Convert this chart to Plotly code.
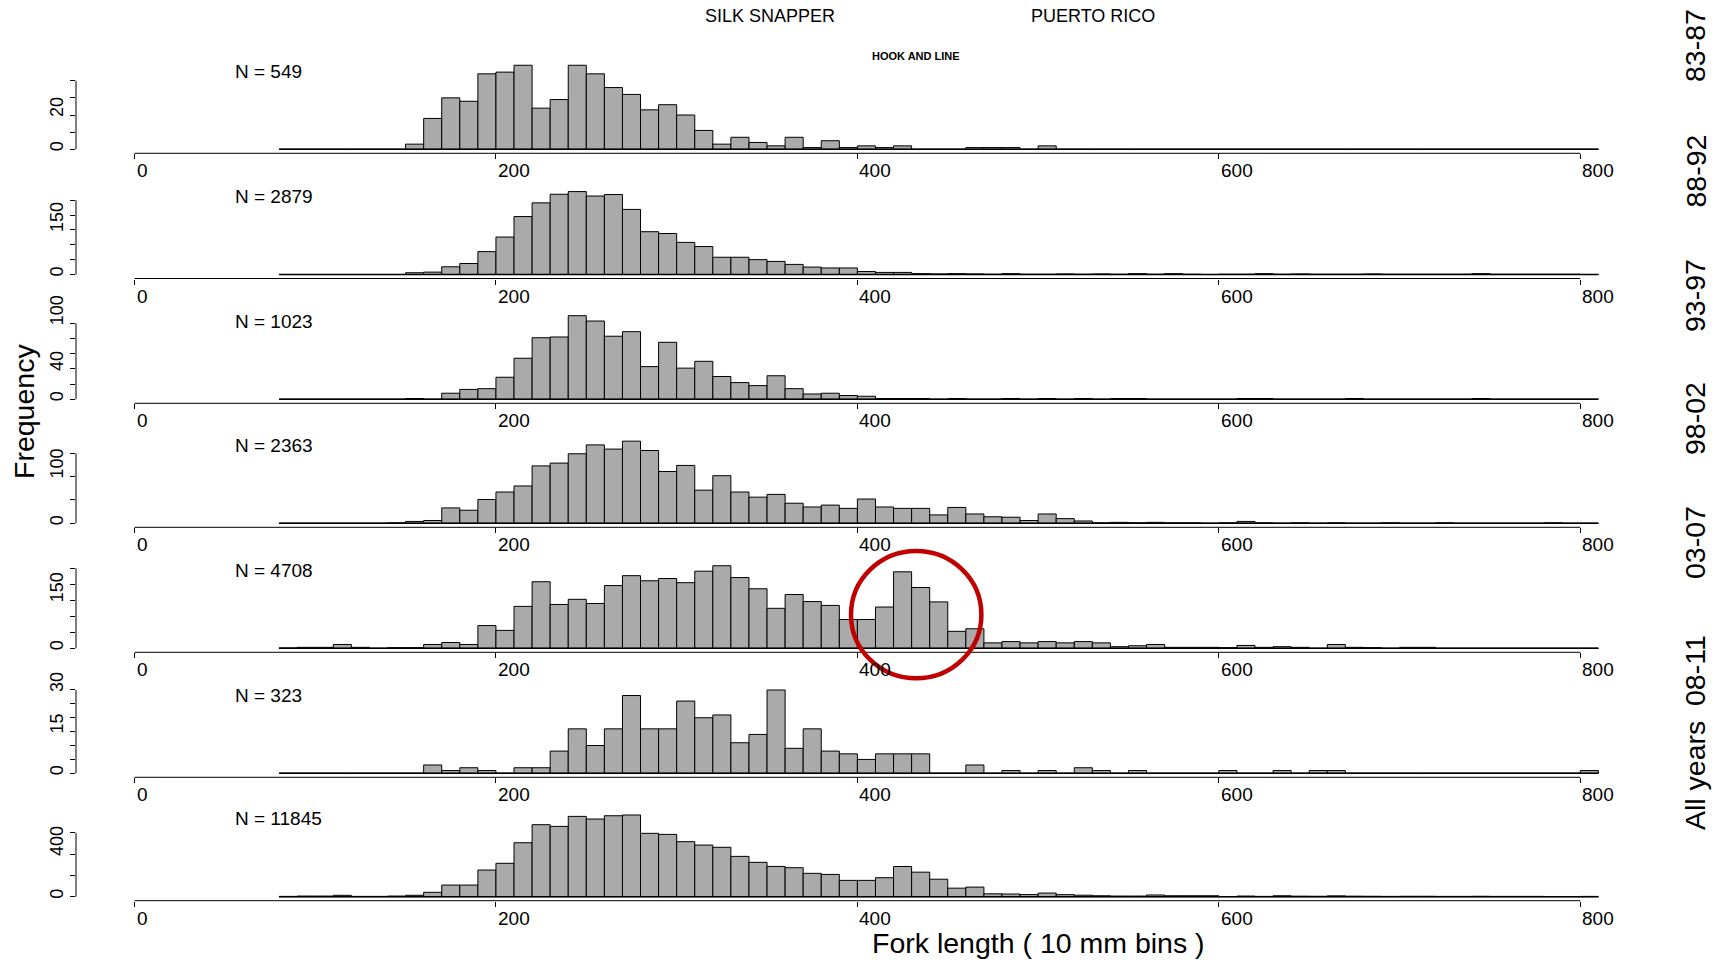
import plotly.graph_objects as go

W, H = 1723, 962

# ---------------- data ----------------
bin_width = 10
bin_starts = list(range(80, 810, bin_width))  # 80 .. 800 (fork length, 10 mm bins)

counts_83_87 = [0, 0, 0, 0, 0, 0, 0,
                3, 18, 30, 28, 44, 45, 49, 24, 29, 49,
                44, 36, 32, 23, 26, 20, 11, 3, 7, 4,
                2, 7, 1, 5, 1, 2, 1, 2, 0, 0,
                0, 1, 1, 1, 0, 2, 0, 0, 0, 0,
                0, 0, 0, 0, 0, 0, 0, 0, 0, 0,
                0, 0, 0, 0, 0, 0, 0, 0, 0, 0,
                0, 0, 0, 0, 0, 0]
counts_88_92 = [0, 0, 0, 0, 0, 0, 0,
                6, 8, 26, 37, 77, 126, 195, 241, 270, 279,
                264, 269, 219, 144, 138, 108, 94, 58, 58, 50,
                44, 34, 25, 22, 22, 10, 7, 7, 3, 2,
                3, 2, 1, 3, 1, 1, 2, 1, 2, 1,
                3, 1, 3, 1, 0, 1, 1, 3, 1, 2,
                1, 1, 1, 2, 1, 1, 1, 1, 1, 3,
                1, 1, 1, 1, 1, 0]
counts_93_97 = [0, 0, 0, 0, 0, 0, 0,
                1, 0, 8, 13, 14, 29, 54, 81, 82, 110,
                103, 83, 89, 43, 75, 41, 50, 30, 22, 18,
                31, 14, 7, 8, 5, 4, 1, 1, 1, 0,
                1, 0, 0, 1, 0, 1, 0, 1, 0, 1,
                1, 0, 0, 0, 0, 0, 1, 1, 0, 0,
                0, 0, 1, 0, 0, 0, 0, 0, 0, 1,
                0, 0, 0, 0, 0, 0]
counts_98_02 = [0, 0, 0, 0, 0, 0, 1,
                4, 6, 33, 28, 51, 67, 80, 123, 129, 149,
                168, 159, 176, 156, 111, 124, 71, 102, 67, 56,
                62, 43, 35, 39, 32, 52, 35, 32, 32, 18,
                34, 20, 14, 13, 6, 20, 10, 5, 1, 2,
                1, 2, 1, 1, 0, 1, 4, 1, 0, 1,
                0, 1, 0, 0, 1, 0, 0, 1, 0, 0,
                0, 0, 0, 1, 0, 0]
counts_03_07 = [1, 3, 3, 12, 3, 0, 2,
                2, 12, 18, 12, 71, 56, 131, 208, 137, 153,
                140, 196, 227, 211, 218, 205, 241, 258, 221, 186,
                125, 168, 146, 134, 90, 90, 129, 239, 190, 145,
                53, 61, 17, 21, 17, 21, 17, 21, 17, 5,
                8, 12, 3, 3, 3, 2, 9, 3, 5, 3,
                0, 12, 3, 2, 0, 3, 3, 0, 0, 0,
                0, 0, 0, 0, 0, 0]
counts_08_11 = [0, 0, 0, 0, 0, 0, 0,
                0, 3, 1, 2, 1, 0, 2, 2, 8, 16,
                10, 16, 28, 16, 16, 26, 20, 21, 11, 14,
                30, 9, 16, 8, 7, 5, 7, 7, 7, 0,
                0, 3, 0, 1, 0, 1, 0, 2, 1, 0,
                1, 0, 0, 0, 0, 1, 0, 0, 1, 0,
                1, 1, 0, 0, 0, 0, 0, 0, 0, 0,
                0, 0, 0, 0, 0, 1]
counts_all = [3, 6, 6, 13, 3, 3, 6,
              13, 41, 109, 109, 250, 313, 506, 675, 659, 753,
              728, 759, 766, 594, 584, 516, 484, 463, 378, 322,
              284, 272, 219, 209, 153, 153, 178, 283, 230, 164,
              80, 90, 27, 25, 20, 34, 19, 14, 9, 6,
              6, 16, 9, 9, 9, 2, 6, 3, 9, 5,
              4, 8, 5, 4, 3, 4, 4, 3, 3, 4,
              3, 3, 3, 2, 2, 3]

series = [counts_83_87, counts_88_92, counts_93_97, counts_98_02,
          counts_03_07, counts_08_11, counts_all]
period_labels = ["83-87", "88-92", "93-97", "98-02", "03-07", "08-11", "All years"]
n_labels = ["N = 549", "N = 2879", "N = 1023", "N = 2363", "N = 4708", "N = 323", "N = 11845"]

x_ticks = [0, 200, 400, 600, 800]
y_ticks = [[0, 10, 20, 30, 40], [0, 50, 100, 150, 200, 250], [0, 20, 40, 60, 80, 100],
           [0, 50, 100, 150], [0, 50, 100, 150, 200, 250], [0, 5, 10, 15, 20, 25, 30],
           [0, 200, 400, 600]]
y_tick_labels = [["0", "20"], ["0", "150"], ["0", "40", "100"], ["0", "100"],
                 ["0", "150"], ["0", "15", "30"], ["0", "400"]]

# ---------------- layout geometry (pixels) ----------------
FONT = "Liberation Sans, Arial, Helvetica, sans-serif"
baseline_px = [149.3, 274.5, 399.3, 523.3, 648.3, 773.3, 896.7]
px_per_unit = [1.715, 0.2972, 0.76, 0.4667, 0.32, 2.778, 0.10667]
X0_PX, PXU_X = 134.5, 1.80725
LEFT_PX, RIGHT_PX = 76, 1610
x_range = [(LEFT_PX - X0_PX) / PXU_X, (RIGHT_PX - X0_PX) / PXU_X]
YLAB_SIZE = 18


def px_x(px):
    return px / W


def px_y(px):
    return 1 - px / H


fig = go.Figure()
annotations = []
shapes = []
layout = {}

for i, counts in enumerate(series):
    k = "" if i == 0 else str(i + 1)
    xa, ya = "x" + k, "y" + k
    b = baseline_px[i]
    ppu = px_per_unit[i]

    fig.add_trace(go.Bar(
        x=bin_starts, y=counts, width=bin_width, offset=0,
        marker=dict(color="#aaaaaa", line=dict(color="black", width=1)),
        xaxis=xa, yaxis=ya, showlegend=False, hoverinfo="x+y"))
    fig.add_trace(go.Scatter(
        x=[bin_starts[0], bin_starts[-1] + bin_width], y=[0, 0], mode="lines",
        line=dict(color="black", width=1.6), xaxis=xa, yaxis=ya,
        showlegend=False, hoverinfo="skip"))

    layout["xaxis" + k] = dict(
        domain=[px_x(LEFT_PX), px_x(RIGHT_PX)], range=x_range, anchor=ya,
        tickmode="array", tickvals=x_ticks, ticks="outside", ticklen=5,
        tickwidth=1, tickcolor="black", showticklabels=False,
        showgrid=False, zeroline=False, showline=False, fixedrange=True)
    layout["yaxis" + k] = dict(
        domain=[px_y(b + 4), px_y(b - 90)], range=[-4 / ppu, 90 / ppu], anchor=xa,
        tickmode="array", tickvals=y_ticks[i], ticks="outside", ticklen=5,
        tickwidth=1, tickcolor="black", showticklabels=False,
        showgrid=False, zeroline=False, showline=False, fixedrange=True)

    # R-style axis lines (only between first and last tick)
    shapes.append(dict(type="line", xref=xa, yref=ya + " domain",
                       x0=x_ticks[0], x1=x_ticks[-1], y0=0, y1=0,
                       line=dict(color="black", width=1)))
    shapes.append(dict(type="line", xref=xa + " domain", yref=ya,
                       x0=0, x1=0, y0=y_ticks[i][0], y1=y_ticks[i][-1],
                       line=dict(color="black", width=1)))

    # x tick labels (left aligned at tick, as in the original)
    for t in x_ticks:
        annotations.append(dict(text=str(t), xref=xa, x=t, xanchor="left",
                                yref="paper", y=px_y(b + 21.5), yanchor="middle",
                                showarrow=False, font=dict(size=19, color="black", family=FONT)))
    # y tick labels (rotated, text starting at the tick and running upward)
    for lab in y_tick_labels[i]:
        half_len = len(lab) * 0.556 * YLAB_SIZE / 2
        annotations.append(dict(text=lab, xref="paper", x=px_x(57), xanchor="center",
                                yref=ya, y=float(lab), yanchor="middle", yshift=half_len - 2,
                                textangle=-90, showarrow=False,
                                font=dict(size=YLAB_SIZE, color="black", family=FONT)))
    # N label
    annotations.append(dict(text=n_labels[i], xref="paper", x=px_x(233), xanchor="left",
                            yref="paper", y=px_y(b - 78), yanchor="middle", showarrow=False,
                            font=dict(size=19, color="black", family=FONT)))

# right-hand period labels
period_y_px = [46, 171.5, 296, 419, 543, 671, 776]
for lab, ypx in zip(period_labels, period_y_px):
    annotations.append(dict(text=lab, xref="paper", x=px_x(1695), xanchor="center",
                            yref="paper", y=px_y(ypx), yanchor="middle", textangle=-90,
                            showarrow=False, font=dict(size=28.5, color="black", family=FONT)))

# titles
annotations += [
    dict(text="SILK SNAPPER", xref="paper", x=px_x(770), yref="paper", y=px_y(16.5),
         xanchor="center", yanchor="middle", showarrow=False,
         font=dict(size=18, color="black", family=FONT)),
    dict(text="PUERTO RICO", xref="paper", x=px_x(1093), yref="paper", y=px_y(16.5),
         xanchor="center", yanchor="middle", showarrow=False,
         font=dict(size=18, color="black", family=FONT)),
    dict(text="<b>HOOK AND LINE</b>", xref="paper", x=px_x(916), yref="paper", y=px_y(56),
         xanchor="center", yanchor="middle", showarrow=False,
         font=dict(size=11, color="black", family=FONT)),
    dict(text="Frequency", xref="paper", x=px_x(24), yref="paper", y=px_y(412),
         xanchor="center", yanchor="middle", textangle=-90, showarrow=False,
         font=dict(size=28.5, color="black", family=FONT)),
    dict(text="Fork length ( 10 mm bins )", xref="paper", x=px_x(1038), yref="paper",
         y=px_y(943), xanchor="center", yanchor="middle", showarrow=False,
         font=dict(size=28.5, color="black", family=FONT)),
]

# red highlight circle
shapes.append(dict(type="circle", xref="paper", yref="paper", layer="above",
                   x0=px_x(851), x1=px_x(981.4), y0=px_y(678.3), y1=px_y(551),
                   line=dict(color="#c00000", width=4.5)))

fig.update_layout(
    width=W, height=H, margin=dict(l=0, r=0, t=0, b=0),
    paper_bgcolor="white", plot_bgcolor="white",
    bargap=0, showlegend=False, annotations=annotations, shapes=shapes,
    font=dict(family=FONT, color="black"), **layout)

fig.write_html("out.html", config={"displayModeBar": False, "staticPlot": True},
               post_script="document.body.style.margin='0px';document.body.style.overflow='hidden';")
